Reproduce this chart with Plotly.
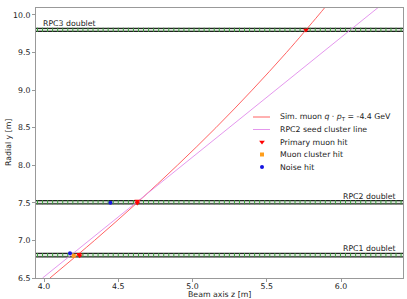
import numpy as np
import plotly.graph_objects as go

# ---- data ----
muon_y = [6.5, 7.0, 7.5, 8.0, 8.5, 9.0, 9.5, 10.0, 10.1]
muon_z = [4.04, 4.34, 4.626, 4.898, 5.157, 5.401, 5.632, 5.849, 5.891]

seed_z = [3.99, 6.25]
seed_y = [6.5, 10.1]

primary_z = [4.236, 4.240, 4.628, 4.628, 5.764]
primary_y = [6.815, 6.795, 7.525, 7.497, 9.800]

cluster_z = [4.200]
cluster_y = [6.797]

noise_z = [4.175, 4.447]
noise_y = [6.828, 7.502]

doublet_names = ["RPC1 doublet", "RPC2 doublet", "RPC3 doublet"]
doublet_low = [6.782, 7.487, 9.783]
doublet_high = [6.827, 7.530, 9.823]

legend_labels = ["Sim. muon <i>q</i> · <i>p</i><sub>T</sub> = -4.4 GeV", "RPC2 seed cluster line",
                 "Primary muon hit", "Muon cluster hit", "Noise hit"]

x_ticks = [4.0, 4.5, 5.0, 5.5, 6.0]
y_ticks = [6.5, 7.0, 7.5, 8.0, 8.5, 9.0, 9.5, 10.0]
x_range = [3.946, 6.417]
y_range = [6.5, 10.093]
strip_pitch = 0.034

FONT = "DejaVu Sans"
FS = 7.8
TXT = "#222222"
RED = "rgba(255,70,70,0.85)"
PINK = "rgba(225,140,235,0.9)"

fig = go.Figure()

# doublet detector bands
for lo, hi in zip(doublet_low, doublet_high):
    fig.add_shape(type="rect", x0=x_range[0], x1=x_range[1], y0=lo, y1=hi,
                  fillcolor="#dde8dd", line=dict(width=0), layer="below")
    for yy in (lo, hi):
        fig.add_shape(type="line", x0=x_range[0], x1=x_range[1], y0=yy, y1=yy,
                      line=dict(color="#222222", width=1.2), layer="below")
    strips = np.arange(x_range[0] + 0.01, x_range[1], strip_pitch)
    fig.add_trace(go.Scatter(x=strips, y=[(lo + hi) / 2] * len(strips), mode="markers",
                             marker=dict(symbol="line-ns", size=3, line=dict(color="#3a9a3a", width=1)),
                             showlegend=False, hoverinfo="skip"))

fig.add_trace(go.Scatter(x=muon_z, y=muon_y, mode="lines", line=dict(color=RED, width=1),
                         line_shape="spline", showlegend=False))
fig.add_trace(go.Scatter(x=seed_z, y=seed_y, mode="lines", line=dict(color=PINK, width=1),
                         showlegend=False))

mk_primary = dict(symbol="triangle-down", size=5, color="red")
mk_cluster = dict(symbol="square", size=4, color="#ff9e1b")
mk_noise = dict(symbol="circle", size=4, color="#1515e0")
fig.add_trace(go.Scatter(x=primary_z, y=primary_y, mode="markers", marker=mk_primary, showlegend=False))
fig.add_trace(go.Scatter(x=cluster_z, y=cluster_y, mode="markers", marker=mk_cluster, showlegend=False))
fig.add_trace(go.Scatter(x=noise_z, y=noise_y, mode="markers", marker=mk_noise, showlegend=False))

# ---- manual legend (paper coordinates) ----
L0, B0, PW, PH = 36, 278, 367, 270  # plot area in pixels
def px2paper(px, py):
    return (px - L0) / PW, (B0 - py) / PH
def px2data(px, py):
    fx, fy = px2paper(px, py)
    return x_range[0] + fx * (x_range[1] - x_range[0]), y_range[0] + fy * (y_range[1] - y_range[0])

rows = [117, 129.5, 142, 154.5, 167]
for i, lab in enumerate(legend_labels):
    tx, ty = px2paper(278, rows[i])
    fig.add_annotation(xref="paper", yref="paper", x=tx, y=ty, text=lab, xanchor="left", yanchor="middle",
                       showarrow=False, font=dict(family=FONT, size=FS, color=TXT))
for i, col in enumerate([RED, PINK]):
    x0, y0 = px2paper(253, rows[i])
    x1, _ = px2paper(270, rows[i])
    fig.add_shape(type="line", xref="paper", yref="paper", x0=x0, x1=x1, y0=y0, y1=y0,
                  line=dict(color=col, width=1))
for i, mk in zip([2, 3, 4], [mk_primary, mk_cluster, mk_noise]):
    dx, dy = px2data(262, rows[i])
    fig.add_trace(go.Scatter(x=[dx], y=[dy], mode="markers", marker=mk, showlegend=False, hoverinfo="skip"))

# doublet labels
fig.add_annotation(x=3.979, y=doublet_high[2], text=doublet_names[2], xanchor="left", yanchor="bottom",
                   showarrow=False, font=dict(family=FONT, size=FS, color=TXT), yshift=-2)
for i in (0, 1):
    fig.add_annotation(x=6.385, y=doublet_high[i], text=doublet_names[i], xanchor="right", yanchor="bottom",
                       showarrow=False, font=dict(family=FONT, size=FS, color=TXT), yshift=-2)

# axis titles
fig.add_annotation(xref="paper", yref="paper", x=0.5, y=px2paper(0, 294)[1], text="Beam axis z [m]",
                   xanchor="center", yanchor="middle", showarrow=False, font=dict(family=FONT, size=FS, color=TXT))
fig.add_annotation(xref="paper", yref="paper", x=px2paper(8, 0)[0], y=0.5, text="Radial y [m]", textangle=-90,
                   xanchor="center", yanchor="middle", showarrow=False, font=dict(family=FONT, size=FS, color=TXT))

axis_common = dict(showline=True, mirror=True, linecolor="#999999", linewidth=1, automargin=False,
                   ticks="outside", ticklen=3, tickcolor="#999999", showgrid=False, zeroline=False,
                   tickfont=dict(family=FONT, size=FS, color=TXT))
fig.update_xaxes(range=x_range, tickvals=x_ticks, ticktext=[f"{v:.1f}" for v in x_ticks],
                 ticklabelstandoff=-2, **axis_common)
fig.update_yaxes(range=y_range, tickvals=y_ticks, ticktext=[f"{v:.1f}" for v in y_ticks], **axis_common)

fig.update_layout(width=407, height=299, margin=dict(l=36, r=4, t=8, b=21, autoexpand=False),
                  plot_bgcolor="white", paper_bgcolor="white", showlegend=False,
                  font=dict(family=FONT, size=FS, color=TXT))

fig.write_html("out.html", config={"displayModeBar": False},
               post_script="document.body.style.margin='0';document.body.style.overflow='hidden';")
